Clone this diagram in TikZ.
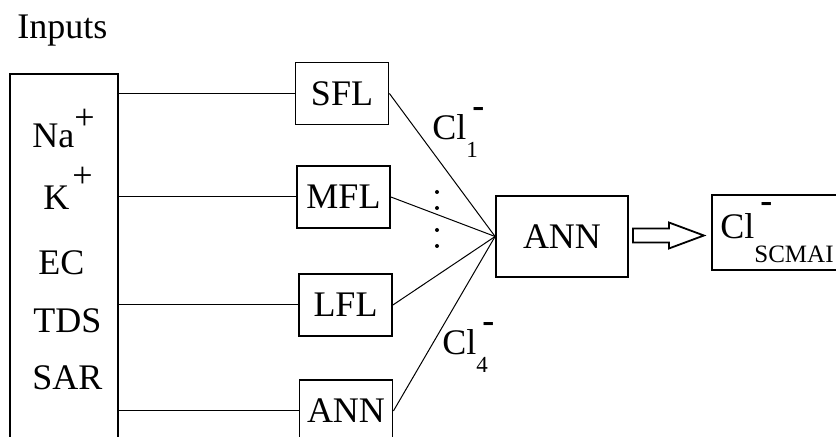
\documentclass[tikz,border=0pt]{standalone}
\usepackage{fontspec}
\setmainfont{Liberation Serif}
\usetikzlibrary{calc}
\newcommand{\clsub}[1]{Cl\rlap{\hspace{3pt}\raisebox{11pt}{\textbf{-}}}\raisebox{-9pt}{\fontsize{11.5}{13}\selectfont #1}}

\begin{document}
\begin{tikzpicture}[x=0.5pt,y=-0.5pt,font=\fontsize{18}{21}\selectfont]
    \tikzstyle{block}=[rectangle,draw,line width=0.9pt,minimum width=46.5pt,minimum height=31pt,inner sep=0pt]
    \tikzstyle{inlabel}=[anchor=base west,inner sep=0pt]
    \tikzstyle{wire}=[line width=0.5pt]
    \clip (0,0) rectangle (836,437);
    \node (inputs) at (17,39) [inlabel] {Inputs};
    \node (inbox) at (64,267) [block,minimum width=54pt,minimum height=193pt] {};
    \node (na) at (32,148) [inlabel] {Na\raisebox{9pt}{+}};
    \node (k) at (43,210) [inlabel] {K\hspace{1.5pt}\raisebox{11pt}{+}};
    \node (ec) at (38,275) [inlabel] {EC};
    \node (tds) at (33,333) [inlabel] {TDS};
    \node (sar) at (32,390) [inlabel] {SAR};
    \node (sfl) at (342,93.5) [block] {SFL};
    \node (mfl) at (343.5,197) [block] {MFL};
    \node (lfl) at (345.5,305) [block] {LFL};
    \node (annb) at (346,411) [block] {ANN};
    \node (ann) at (562,236.5) [block,minimum width=66pt,minimum height=40.5pt] {ANN};
    \node (clout) at (777,232.5) [block,minimum width=65pt,minimum height=37.5pt] {Cl\rlap{\hspace{3pt}\raisebox{13pt}{\textbf{-}}}\raisebox{-12pt}{\fontsize{12.5}{14}\selectfont SCMAI}};
    \node (cla) at (432,140) [inlabel] {\clsub{1}};
    \node (cld) at (442,355) [inlabel] {\clsub{4}};
    \foreach \b in {sfl,mfl,lfl,annb} {
      \draw [wire] (inbox.east |- \b.west) -- (\b.west);
      \draw [wire] (\b.east) -- (ann.west);
    }
    \foreach \y in {192,208,230,246}
      \fill (437,\y) circle (1pt);
    \draw [block] ($(ann.east)+(4,-8)$) -- ++(36,0) -- ++(0,-6) -- ++(35,13)
      -- ++(-35,13) -- ++(0,-6) -- ++(-36,0) -- cycle;
  \end{tikzpicture}
\end{document}
